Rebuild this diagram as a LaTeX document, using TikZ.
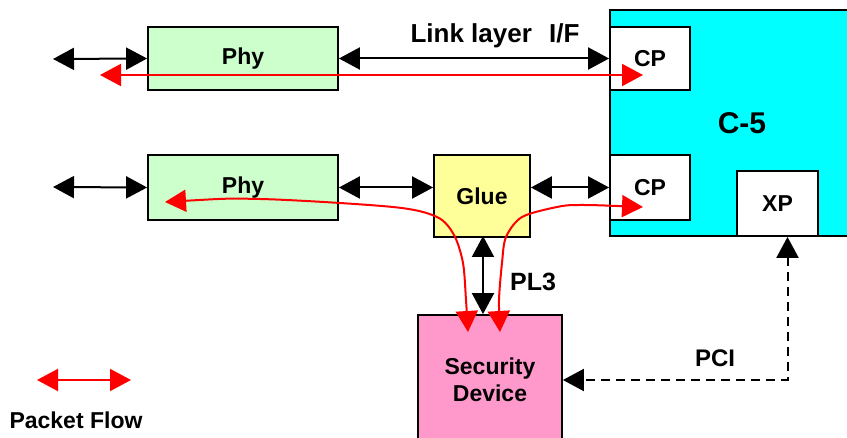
\documentclass[tikz,border=0pt]{standalone}
\usepackage{fontspec}
\setmainfont{Liberation Sans}
\usetikzlibrary{arrows.meta,positioning,calc}
\definecolor{chipcyan}{RGB}{0,255,255}
\definecolor{phygreen}{RGB}{204,255,204}
\definecolor{glueyellow}{RGB}{255,255,153}
\definecolor{secpink}{RGB}{255,153,204}

\begin{document}
\begin{tikzpicture}[x=1pt,y=-1pt,
  box/.style={draw,line width=1.8pt,inner sep=0pt,align=center,
              font=\bfseries\fontsize{23}{27}\selectfont},
  lbl/.style={font=\bfseries\fontsize{#1}{#1}\selectfont},
  ar/.style={{Triangle[length=21pt,width=22pt]}-{Triangle[length=21pt,width=22pt]},line width=2pt},
  flow/.style={ar,red}]
  \useasboundingbox (0,0) rectangle (847,438);
  % C-5 chip runs past the right edge
  \node[box,fill=chipcyan,minimum width=264,minimum height=226,font=\bfseries\fontsize{30}{30}\selectfont] (c5) at (742,123) {C-5};
  \node[box,fill=white,minimum width=80,minimum height=63] (cpA) at (650,58.5) {CP};
  \node[box,fill=white,minimum width=80,minimum height=65] (cpB) at (650,187.5) {CP};
  \node[box,fill=white,minimum width=81,minimum height=65] (xp) at (777.5,203.5) {XP};
  \node[box,fill=phygreen,minimum width=190,minimum height=63] (phyA) at (243,58.5) {Phy};
  \node[box,fill=phygreen,minimum width=190,minimum height=65] (phyB) at (243,187.5) {Phy};
  \node[box,fill=glueyellow,minimum width=96,minimum height=82] (glue) at (482,196) {Glue};
  \node[box,fill=secpink,minimum width=144,minimum height=130] (sec) at (490,380) {Security\\Device};
  \node[lbl=26] (link) at (495,36) {Link layer\hspace{10pt} I/F};
  \node[lbl=25] (pl3) at (533,282) {PL3};
  \node[lbl=24] (pci) at (715,358) {PCI};
  \node[lbl=23] (legend) at (76,420) {Packet Flow};
  % wires
  \coordinate (inA) at (53,59);
  \coordinate (inB) at (53,187);
  \coordinate (gw) at (phyB.east -| glue.west);
  \coordinate (ge) at (glue.east |- cpB.west);
  \coordinate (gs) at (483,236);
  \coordinate (sn) at (gs |- sec.north);
  \foreach \a/\b in {inA/phyA.west,phyA.east/cpA.west,inB/phyB.west,phyB.east/gw,ge/cpB.west,gs/sn}
    \draw[ar] (\a) -- (\b);
  \coordinate (xps) at ([xshift=10pt]xp.south);
  \draw[ar,dash pattern=on 9pt off 6pt] (xps) |- (sec.east);
  % packet flows
  \coordinate (fA1) at (100,75);
  \coordinate (fA2) at (643,75);
  \draw[flow] (fA1) -- (fA2);
  \coordinate (fB1) at (165,202);
  \coordinate (fB2) at (468,332);
  \draw[flow] plot[smooth,tension=0.5] coordinates {(fB1) (260,199) (393,207) (437,217) (454,235) (463,263) (466,300) (fB2)};
  \coordinate (fC1) at (643,207);
  \coordinate (fC2) at (500,332);
  \draw[flow] plot[smooth,tension=0.5] coordinates {(fC1) (580,205) (557,207) (522,217) (506,237) (502,263) (499,300) (fC2)};
  \coordinate (legA) at (37,380);
  \coordinate (legB) at (131,380);
  \draw[flow] (legA) -- (legB);
\end{tikzpicture}
\end{document}
